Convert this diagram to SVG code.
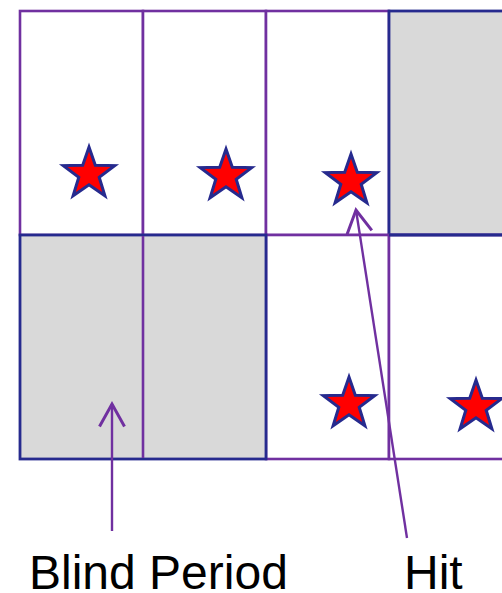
<svg xmlns="http://www.w3.org/2000/svg" width="502" height="593" viewBox="0 0 502 593">
<style>
.cell{fill:#FFFFFF;stroke:#7030A0;stroke-width:2.6}
.blind{fill:#D9D9D9;stroke:#262A8E;stroke-width:2.8}
.pl{stroke:#7030A0;stroke-width:2.6;fill:none}
.star{fill:#FF0000;stroke:#262A8E;stroke-width:3;stroke-linejoin:miter}
.arrow{stroke:#7030A0;stroke-width:2.4;fill:none;marker-end:url(#head)}
.lbl{font-family:"Liberation Sans",Arial,sans-serif;font-size:48px;fill:#000000}
</style>
<defs>
<marker id="head" markerUnits="userSpaceOnUse" markerWidth="30" markerHeight="30" viewBox="-20 -12 22 24" refX="0" refY="0" orient="auto">
<path d="M-18,-10 L0,0 L-18,10" fill="none" stroke="#7030A0" stroke-width="2.4"/>
</marker>
<path id="starShape" d="M0,-27 L6.3,-8.7 L25.7,-8.4 L10.2,3.3 L15.9,21.8 L0,10.8 L-15.9,21.8 L-10.2,3.3 L-25.7,-8.4 L-6.3,-8.7 Z"/>
</defs>
<g id="row1">
<rect id="cell-1-1" class="cell" x="20" y="11" width="123" height="224"/>
<rect id="cell-1-2" class="cell" x="143" y="11" width="123" height="224"/>
<rect id="cell-1-3" class="cell" x="266" y="11" width="123" height="224"/>
<rect id="blind-1" class="blind" x="389" y="11" width="246" height="224"/>
</g>
<g id="row2">
<rect id="cell-2-3" class="cell" x="266" y="235" width="123" height="224"/>
<rect id="cell-2-4" class="cell" x="389" y="235" width="123" height="224"/>
<rect id="blind-2" class="blind" x="20" y="235" width="246" height="224"/>
<line class="pl" x1="143" y1="236" x2="143" y2="458"/>
<line x1="389" y1="235" x2="502" y2="235" stroke="#262A8E" stroke-width="2.8"/>
</g>
<g id="stars">
<use id="star-1" href="#starShape" class="star" transform="translate(89,174)"/>
<use id="star-2" href="#starShape" class="star" transform="translate(226,176)"/>
<use id="star-3" href="#starShape" class="star" transform="translate(351,181)"/>
<use id="star-4" href="#starShape" class="star" transform="translate(349,404)"/>
<use id="star-5" href="#starShape" class="star" transform="translate(476,407)"/>
</g>
<g id="connectors">
<line class="arrow" x1="112" y1="531" x2="112" y2="404"/>
<line class="arrow" x1="407" y1="538" x2="356" y2="210"/>
</g>
<g id="labels">
<text id="label-blind" class="lbl" x="29" y="589">Blind Period</text>
<text id="label-hit" class="lbl" x="404" y="589">Hit</text>
</g>
</svg>
